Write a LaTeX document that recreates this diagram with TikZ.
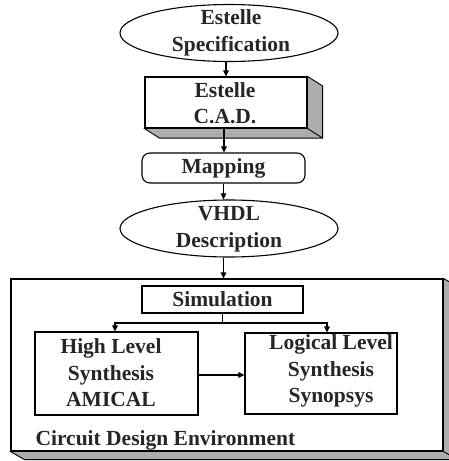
\documentclass[tikz,border=0pt]{standalone}
\usepackage{fontspec}
\setmainfont{Liberation Serif}
\usetikzlibrary{shapes.geometric,arrows.meta}
\begin{document}
\begin{tikzpicture}[x=1pt,y=-1pt,
  line width=1.1pt,
  lbl/.style={font=\bfseries\fontsize{21.5}{26.5}\selectfont, align=center, inner sep=0pt, text=black!85},
  oval/.style={draw, ellipse, minimum width=218pt, minimum height=57pt, inner sep=0pt},
  frame/.style={draw, rectangle, inner sep=0pt},
  depth/.style={fill=black!32, draw, line width=0.9pt},
  arr/.style={-{Triangle[length=6pt,width=5.5pt]}}]
\useasboundingbox (0,0) rectangle (449,461);

% Estelle specification
\node[oval] (spec) at (229,33) {};
\node[lbl] at (231,33) {Estelle\\Specification};

% Estelle C.A.D. block with depth faces
\node[frame, minimum width=162pt, minimum height=51pt] (cad) at (226,102.5) {};
\fill[depth] (cad.north east) -- ([shift={(15,9.5)}]cad.north east)
  -- ([shift={(15,9.5)}]cad.south east) -- ([shift={(15,9.5)}]cad.south west)
  -- (cad.south west) -- cycle;
\draw[line width=0.9pt] (cad.south east) -- ([shift={(15,9.5)}]cad.south east);
\node[frame, fill=white, minimum width=162pt, minimum height=51pt] at (cad) {};
\node[lbl] at (225,103) {Estelle\\C.A.D.};

% Mapping
\node[frame, rounded corners=8pt, minimum width=163pt, minimum height=30pt] (map) at (223.5,168) {};
\node[lbl] at (map) {Mapping};

% VHDL description
\node[oval] (vhdl) at (229,228.5) {};
\node[lbl] at (229,229) {VHDL\\Description};

% Circuit design environment block with depth faces
\begin{scope}
\clip (0,0) rectangle (449,461);
\node[frame, minimum width=432pt, minimum height=172pt] (env) at (227,365) {};
\fill[depth] (env.north east) -- ([shift={(14,8)}]env.north east)
  -- ([shift={(14,8)}]env.south east) -- ([shift={(14,8)}]env.south west)
  -- (env.south west) -- cycle;
\draw[line width=0.9pt] (env.south east) -- ([shift={(14,8)}]env.south east);
\node[frame, fill=white, minimum width=432pt, minimum height=172pt] at (env) {};
\end{scope}
\node[lbl, anchor=base west] (envlbl) at (35,445) {Circuit Design Environment};

% Inner blocks
\node[frame, minimum width=161pt, minimum height=27pt] (sim) at (222.5,299.5) {};
\node[lbl] at (sim) {Simulation};
\node[frame, minimum width=163pt, minimum height=83pt] (hls) at (116.5,373.5) {};
\node[lbl] at (111,373) {High Level\\Synthesis\\AMICAL};
\node[frame, minimum width=152pt, minimum height=81pt] (lls) at (321,373.5) {};
\node[lbl] at (331,371) {Logical Level\\Synthesis\\Synopsys};

% Connectors
\draw[arr] (spec.south -| cad.north) -- (cad.north);
\draw[arr] ([xshift=-2pt]cad.south) -- ([xshift=-2pt]map.north -| cad.south);
\draw[arr] (map.south) -- (map.south |- vhdl.north);
\draw[arr] (vhdl.south -| map.south) -- (env.north -| map.south);
\coordinate (split) at (222.5,323);
\draw (sim.south) -- (split);
\draw[arr] (split) -| ([xshift=-1.5pt]hls.north);
\draw[arr] (split) -| ([xshift=6pt]lls.north);
\draw[arr] (hls.east |- 0,375) -- (lls.west |- 0,375);
\end{tikzpicture}
\end{document}
